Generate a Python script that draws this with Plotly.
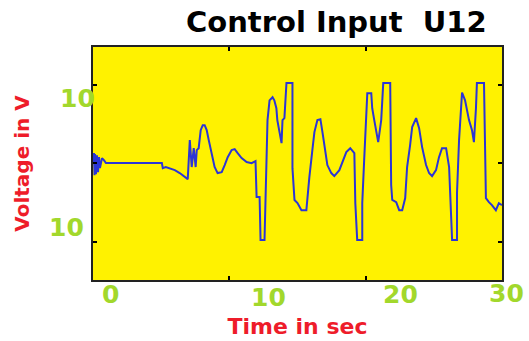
import plotly.graph_objects as go

# ---- data ----
time_s = [0.0, 0.07, 0.11, 0.15, 0.22, 0.29, 0.37, 0.44, 0.51, 0.66, 0.8, 0.95,
          5.05, 5.12, 5.34, 5.63, 6.0, 6.36, 6.66, 6.88, 6.95,
          7.1, 7.24, 7.39, 7.53, 7.61, 7.75, 7.9, 8.05, 8.19, 8.34, 8.49, 8.7, 8.92,
          9.14, 9.44, 9.66, 9.88, 10.17, 10.39, 10.61, 10.9, 11.27, 11.63, 11.92,
          12.0, 12.22, 12.29, 12.58, 12.66, 12.73, 12.8, 12.95, 13.17, 13.3, 13.45,
          13.52, 13.66, 13.83, 13.9, 14.04, 14.19, 14.63, 14.63, 14.78, 15.0, 15.29,
          15.65, 15.73, 15.87, 16.09, 16.24, 16.46, 16.68, 16.83, 16.97, 17.19, 17.48,
          17.7, 18.07, 18.29, 18.58, 18.87, 19.09, 19.17, 19.24, 19.38, 19.75, 19.75,
          19.9, 20.04, 20.12, 20.41, 20.48, 20.63, 20.78, 20.92, 21.14, 21.21, 21.29,
          21.8, 21.87, 21.95, 22.24, 22.46, 22.68, 22.9, 23.04, 23.26, 23.41, 23.7,
          23.92, 24.14, 24.43, 24.65, 24.87, 25.16, 25.38, 25.6, 25.9, 26.12, 26.26,
          26.34, 26.7, 26.7, 26.85, 26.99, 27.07, 27.29, 27.43, 27.58, 27.8, 27.94,
          28.09, 28.16, 28.68, 28.75, 28.82, 29.04, 29.26, 29.55, 29.77, 30.0]
voltage = [0.0, 1.27, -1.53, 1.15, -1.4, 1.0, -1.15, 0.76, -0.64, 0.64, 0.38, 0.0,
           0.0, -0.64, -0.5, -0.64, -0.9, -1.27, -1.66, -1.9, -2.04,
           2.93, -0.5, 1.9, -0.5, 1.66, 1.9, 4.2, 4.84, 4.84, 4.2, 2.93, 1.27, -0.5,
           -1.27, -1.15, -0.25, 0.76, 1.66, 1.78, 1.27, 0.64, 0.13, 0.0, 0.25,
           -4.33, -4.33, -9.8, -9.8, -5.1, 0.38, 5.48, 8.0, 8.4, 8.0, 7.0,
           5.48, 3.95, 2.55, 5.48, 5.73, 10.2, 10.2, -0.64, -4.7, -5.1, -6.0,
           -6.0, -4.33, -1.78, 1.66, 3.95, 5.48, 5.6, 3.95, 2.04, -0.25, -1.27,
           -1.66, -0.9, 0.13, 1.4, 1.9, 1.4, 1.27, -5.1, -9.8, -9.8, -5.1,
           0.76, 6.5, 8.9, 8.9, 7.0, 5.48, 3.95, 2.67, 5.48, 7.64, 10.2,
           10.2, -2.8, -4.7, -4.97, -6.0, -6.0, -4.46, -0.5, 2.3, 4.6, 5.73,
           4.46, 2.04, -0.25, -1.27, -1.66, -0.9, 0.76, 1.9, 1.9, -0.5, -6.9,
           -9.8, -9.8, -3.8, 2.93, 7.64, 9.0, 8.0, 6.75, 5.48, 4.2, 2.67,
           7.0, 10.2, 10.2, 2.55, -4.46, -4.97, -5.35, -6.0, -5.1, -5.35]

x_tick_values = [0, 10, 20, 30]
x_tick_labels = ["0", "10", "20", "30"]
y_tick_values = [-10, 0, 10]
y_tick_labels = ["10", "10"]

title_text = "Control Input  U12"
x_title = "Time in sec"
y_title = "Voltage in V"

# label placement in paper coordinates (as drawn in the reference)
x_label_pos = [(0.042, -0.064), (0.428, -0.077), (0.751, -0.064), (1.012, -0.056)]
y_label_pos = [(-0.039, 0.781), (-0.066, 0.227)]

fig = go.Figure()
fig.add_trace(go.Scatter(
    x=time_s, y=voltage, mode="lines",
    line=dict(color="#2B35D6", width=2),
    hoverinfo="skip", showlegend=False,
))

label_font = dict(family="DejaVu Sans", size=25, color="#A2D82C", weight="bold")
annotations = []
for txt, (px, py) in zip(x_tick_labels + y_tick_labels, x_label_pos + y_label_pos):
    annotations.append(dict(x=px, y=py, xref="paper", yref="paper", text=txt,
                            showarrow=False, xanchor="center", yanchor="middle",
                            font=label_font))

fig.update_layout(
    width=529, height=341,
    margin=dict(l=93, r=27, t=47, b=61, autoexpand=False),
    paper_bgcolor="white",
    plot_bgcolor="#FFF200",
    title=dict(text=title_text, x=0.595, xref="paper", xanchor="center",
               y=1 - 22 / 341, yref="container", yanchor="middle",
               automargin=False,
               font=dict(family="DejaVu Sans", size=29, color="black", weight="bold")),
    annotations=annotations,
)
fig.update_xaxes(
    range=[0, 30], tickvals=x_tick_values, showticklabels=False,
    ticks="inside", ticklen=4, tickwidth=2, tickcolor="black",
    showline=True, linecolor="#222", linewidth=2, mirror="ticks",
    showgrid=False, zeroline=False, automargin=False,
    title=dict(text=x_title, standoff=38,
               font=dict(family="DejaVu Sans", size=22, color="#EE1C2A", weight="bold")),
)
fig.update_yaxes(
    range=[-14.9, 14.8], tickvals=y_tick_values, showticklabels=False,
    ticks="inside", ticklen=4, tickwidth=2, tickcolor="black",
    showline=True, linecolor="#222", linewidth=2, mirror="ticks",
    showgrid=False, zeroline=False, automargin=False,
    title=dict(text=y_title, standoff=56,
               font=dict(family="DejaVu Sans", size=20, color="#EE1C2A", weight="bold")),
)

fig.write_html("out.html")
